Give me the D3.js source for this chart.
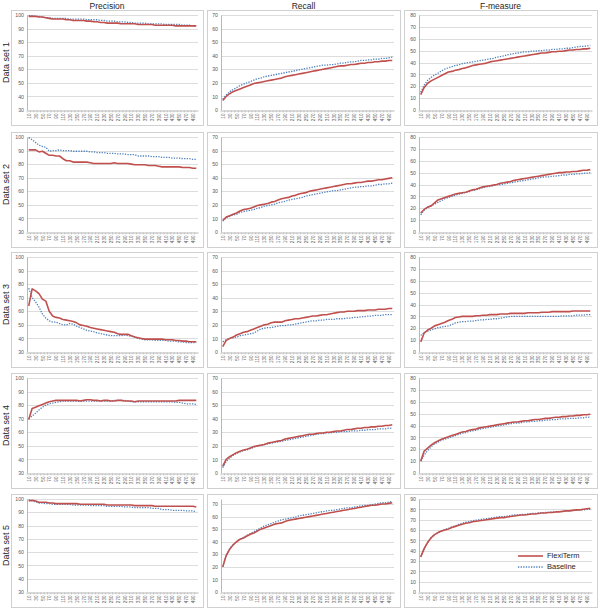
<!DOCTYPE html>
<html><head><meta charset="utf-8">
<script src="https://cdn.jsdelivr.net/npm/d3@7"></script>
<style>html,body{margin:0;padding:0;background:#fff;}svg{display:block;}</style>
</head><body>
<svg id="chart" width="600" height="609"></svg>
<script>
// ---------------- DATA ----------------
const categories = [10,20,30,40,50,60,70,80,90,100,110,120,130,140,150,160,170,180,190,200,210,220,230,240,250,260,270,280,290,300,310,320,330,340,350,360,370,380,390,400,410,420,430,440,450,460,470,480,490,500];
const xTickLabels = [10,30,50,70,90,110,130,150,170,190,210,230,250,270,290,310,330,350,370,390,410,430,450,470,490];
const columnTitles = ["Precision","Recall","F-measure"];
const rowTitles = ["Data set 1","Data set 2","Data set 3","Data set 4","Data set 5"];
const seriesNames = ["FlexiTerm","Baseline"];
const precisionTicks = [30,40,50,60,70,80,90,100];
const recallTicks = [0,10,20,30,40,50,60,70];
const fTicks = [0,10,20,30,40,50,60,70,80];
const fTicksWide = [0,10,20,30,40,50,60,70,80,90];

// Data set 1
const ds1PrecFlexi = [99,99,99,98.5,98.5,98,97.5,97,97,97, 97,96.5,96.5,96,96,96,96,95.5,95.5,95, 95,94.5,94.5,94,94,94,94,93.5,93.5,93.5, 93.5,93.5,93,93,93,93,93,92.5,92.5,92.5, 92.5,92.5,92.5,92,92,92,92,92,92,92];
const ds1PrecBase = [99.5,99.5,99,99,98.5,98,98,97.5,97.5,97.5, 97.5,97.5,97,97,97,97,97,96.5,96.5,96.5, 96.5,96,96,95.5,95.5,95.5,95,95,95,94.5, 94.5,94,94,94,94,93.5,93.5,93.5,93.5,93.5, 93,93,93,93,93,92.5,92.5,92.5,92,92];
const ds1RecFlexi = [7,10,12,13.5,14.5,15.5,16.5,17.5,18.5,19.5, 20,20.5,21,21.5,22,22.5,23,23.5,24.5,25, 25.5,26,26.5,27,27.5,28,28.5,29,29.5,30, 30.5,31,31.5,32,32.5,32.5,33,33.5,33.5,34, 34.5,34.5,35,35,35.5,35.5,36,36,36.5,36.5];
const ds1RecBase = [8,11,13.5,15,16.5,18,19,20,21,22, 23,23.5,24.5,25,25.5,26,26.5,27,27.5,28, 28.5,29,29.5,30,30.5,31,31.5,32,32.5,33, 33,33.5,33.5,34,34.5,34.5,35,35.5,35.5,36, 36.5,36.5,37,37,37.5,37.5,38,38,38.5,39];
const ds1FFlexi = [13,19,22.5,24.5,26,27.5,29,30.5,32,32.5, 33.5,34,35,35.5,36.5,37.5,38,38.5,39,39.5, 40.5,41,41.5,42,42.5,43,43.5,44,44.5,45, 45.5,46,46.5,47,47.5,48,48,48.5,49,49, 49.5,49.5,50,50.5,50.5,51,51,51.5,51.5,52];
const ds1FBase = [15,21,25,27.5,29.5,31,33,34.5,35.5,36.5, 37.5,38,39,39.5,40,40.5,41,41.5,42,42.5, 43,43.5,44.5,45,45.5,46.5,47,47.5,48,48.5, 49,49,49.5,49.5,50,50,50.5,50.5,51,51, 51.5,51.5,52,52,52.5,53,53.5,53.5,54,54.5];

// Data set 2
const ds2PrecFlexi = [90.5,90.5,90.5,89,89.5,88,86.5,86.5,86,86, 84,82.5,82.5,81.5,81.5,81.5,81.5,81.5,81,80.5, 80.5,80.5,80.5,80.5,80.5,81,80.5,80.5,80.5,80.5, 80,79.5,79.5,79.5,79.5,79,79,79,78.5,78, 78,78,78,78,78,77.5,77.5,77.5,77,77];
const ds2PrecBase = [99.5,98,96,94,93,92.5,89.5,90,90,90.5, 90,90,90,89.5,89.5,89.5,89.5,89.5,89,89, 88.5,88.5,88.5,88,88,88,87.5,87.5,87.5,87, 87,87,86,86,86,86,85.5,85.5,85.5,85, 85,85,84.5,84.5,84.5,84,84,84,83.5,83.5];
const ds2RecFlexi = [8.5,11,12,13,14,15.5,16.5,17,17.5,18.5, 19.5,20,20.5,21,22,22.5,23.5,24.5,25,25.5, 26.5,27,28,28.5,29,30,30.5,31,31.5,32, 32.5,33,33.5,34,34.5,35,35.5,35.5,36,36.5, 36.5,37,37.5,37.5,38,38.5,38.5,39,39.5,40];
const ds2RecBase = [8,10.5,11.5,12.5,13,14.5,15,15.5,16,16.5, 17.5,18,19,19.5,20,20.5,21.5,22,22.5,23.5, 24,24.5,25,25.5,26.5,27,27.5,28,28.5,29, 29.5,30,30.5,30.5,31,31.5,32,32.5,33,33, 33.5,33.5,34,34,34.5,35,35,35.5,35.5,36];
const ds2FFlexi = [16,19,21,22,24.5,27,28,29,30,31, 32,32.5,33,33.5,34.5,35.5,36,37,38,38.5, 39,39.5,40,41,41.5,42,42.5,43.5,44,44.5, 45,45.5,46,46.5,47,47.5,48,48.5,49,49.5, 50,50,50.5,50.5,51,51,51.5,52,52,52.5];
const ds2FBase = [14.5,18.5,20.5,22,23.5,25,26.5,28,29,30, 31,32,32.5,33.5,34,35,35.5,36.5,37.5,38, 38.5,39,40,40,40.5,41,41.5,42,42.5,43, 43.5,44,44.5,45,45.5,46,46.5,46.5,47,47, 47.5,48,48,48.5,48.5,49,49,49.5,49.5,50];

// Data set 3
const ds3PrecFlexi = [64,76.5,75,73,69,67.5,60,56.5,55.5,55, 54,53.5,53,52.5,51.5,50,49.5,49,48,47.5, 47,46.5,46,45.5,45,44.5,43.5,43,43,43, 42,41,40.5,40,39.5,39.5,39.5,39.5,39.5,39.5, 39,39,39,38.5,38.5,38,38,37.5,37.5,37.5];
const ds3PrecBase = [77,70,67,63,58,55,53,52,52,51, 50,50,51,50.5,49,48,47,46,45.5,45, 44,43.5,43,42.5,42,42,42,42,42.5,42, 41.5,41,40,39.5,39,39,39,38.5,38.5,38.5, 38.5,38,38,38,37.5,37.5,37,37,37,37];
const ds3RecFlexi = [4,8.5,10,11,12.5,13.5,14.5,15,16,17, 18,19,20,20.5,21.5,22,22,22,23,23.5, 24,24.5,24.5,25,25.5,26,26.5,26.5,27,27.5, 27.5,28,28.5,29,29.5,29.5,30,30,30,30.5, 30.5,30.5,31,31,31,31.5,31.5,31.5,32,32];
const ds3RecBase = [7.5,9,10,10.5,11,12,12.5,13,13.5,14, 15.5,17,17.5,18,18,18.5,19,19.5,19.5,20, 20,20.5,21,21.5,22,22.5,23,23,23.5,23.5, 24,24,24,24.5,24.5,24.5,25,25,25.5,25.5, 26,26,26.5,26.5,27,27,27,27.5,27.5,27.5];
const ds3FFlexi = [8.5,16,18.5,20,22,23,24,25,26.5,27.5, 29,29.5,30,30,30,30,30.5,30.5,31,31, 31.5,31.5,31.5,32,32,32,32.5,32.5,32.5,32.5, 32.5,33,33,33,33,33.5,33.5,33.5,34,34, 34,34,34,34,34.5,34.5,34.5,34.5,34.5,34.5];
const ds3FBase = [14,16.5,17.5,18.5,19.5,20.5,21,21.5,22,23, 24.5,25,25.5,25.5,26,26,26.5,27,27,27.5, 27.5,28,28,28.5,29,29.5,30,30,30,30, 30,30,30,30,30,30,30,30,30,30, 30,30.5,30.5,30.5,30.5,31,31,31,31.5,31.5];

// Data set 4
const ds4PrecFlexi = [69.5,77.5,78.5,79.5,80.5,81.5,82.5,83,83.5,83.5, 83.5,83.5,83.5,83.5,83.5,83,83.5,84,84,83.5, 83.5,83,83.5,83.5,83,83,83.5,83.5,83,83, 83,82.5,83,83,83,83,83,83,83,83, 83,83,83,83,83.5,83.5,83.5,83.5,83.5,83.5];
const ds4PrecBase = [70,72,74,76.5,78.5,80,81,81.5,82,82.5, 83,83,83,83,83,83,83,83,83,83, 83,83,83,83,83,83.5,83.5,83.5,83.5,83, 82.5,82.5,82.5,82.5,82.5,82.5,82.5,82.5,82.5,82.5, 82.5,82.5,82.5,82,82,81.5,81,81,81,80.5];
const ds4RecFlexi = [5,10,12,13.5,15,16,17,17.5,18.5,19.5, 20,20.5,21,22,22.5,23,23.5,24,25,25.5, 26,26.5,27,27.5,28,28.5,28.5,29,29.5,29.5, 30,30,30.5,31,31,31.5,32,32,32.5,33, 33,33.5,33.5,34,34,34.5,34.5,35,35,35.5];
const ds4RecBase = [4,8.5,11,13,14.5,15.5,16.5,17,18,19, 20,20.5,21,21.5,22,22.5,23,23.5,24,24.5, 25,25.5,26,26.5,27,27.5,28,28.5,29,29, 29.5,29.5,30,30,30.5,30.5,30.5,31,31,31, 31.5,31.5,32,32,32,32.5,32.5,32.5,33,33];
const ds4FFlexi = [10,18.5,21,23.5,25.5,27,28.5,29.5,30.5,31.5, 32.5,33.5,34.5,35,36,36.5,37,38,38.5,39, 39.5,40,40.5,41,41.5,42,42.5,43,43,43.5, 44,44,44.5,45,45,45.5,46,46,46.5,47, 47,47.5,47.5,48,48,48.5,48.5,49,49,49.5];
const ds4FBase = [10,15,19,22,24.5,26,27.5,28.5,29.5,30.5, 31.5,32.5,33.5,34,35,35.5,36,37,37.5,38, 38.5,39,39.5,40,40.5,41,41.5,42,42,42.5, 43,43,43.5,43.5,44,44,44.5,44.5,45,45, 45.5,45.5,45.5,46,46,46,46.5,46.5,47,47];

// Data set 5
const ds5PrecFlexi = [98.5,99,98.5,97.5,97.5,97.5,97,97,96.5,96.5, 96.5,96.5,96.5,96.5,96.5,96,96,96,96,96, 96,96,96,95.5,95.5,95.5,95.5,95.5,95.5,95.5, 95.5,95,95,95,95,95,95,94.5,94.5,94.5, 94.5,94.5,94.5,94.5,94.5,94.5,94.5,94.5,94.5,94];
const ds5PrecBase = [99.5,98.5,98,97,97,96.5,96.5,96,96,96, 96,96,96,95.5,95.5,95.5,95.5,95.5,95,95, 95,95,95,94.5,94.5,94.5,94.5,94.5,94,94, 94,93.5,93.5,93.5,93.5,93.5,93,93,93,92, 92,92,91.5,91.5,91.5,91.5,91,91,91,90.5];
const ds5RecFlexi = [20,29,34,37.5,40,42,43,44.5,46,47, 48.5,50,51,52,53,54,54.5,55,56,57, 57.5,58,58.5,59,59.5,60,60.5,61,61.5,62, 62.5,63,63.5,64,64.5,65,65.5,66,66.5,67, 67.5,68,68.5,69,69,69.5,70,70,70.5,71];
const ds5RecBase = [20,29,34.5,37.5,40,42,43.5,45,46.5,48, 49.5,51,52.5,53.5,54.5,55.5,56.5,57.5,58,58.5, 59,59.5,60.5,61,61.5,62,62.5,63,63.5,64, 64.5,65,65,65.5,66,66.5,67,67,67.5,68, 68.5,69,69,69.5,70,70.5,71,71,71.5,72];
const ds5FFlexi = [34,42,48,52.5,55.5,57.5,59,60,61,62.5, 63.5,64.5,65.5,66.5,67,68,68.5,69,69.5,70, 70.5,71,71.5,72,72,72.5,73,73.5,74,74.5, 74.5,75,75.5,75.5,76,76.5,76.5,77,77,77.5, 77.5,78,78.5,78.5,79,79.5,79.5,80,80.5,81];
const ds5FBase = [34,42,48,52.5,55.5,57.5,59,60.5,61.5,63, 64,65.5,66.5,67.5,68,69,69.5,70,70.5,71, 71.5,72,72.5,73,73,73.5,74,74.5,74.5,75, 75,75.5,76,76,76.5,76.5,77,77,77.5,77.5, 78,78,78.5,78.5,79,79,79.5,79.5,80,80];

// ------------- PANEL TABLE (built from the arrays) -------------
const panels = [
  [ {ticks:precisionTicks, max:100, s:[ds1PrecFlexi, ds1PrecBase]}, {ticks:recallTicks, max:70, s:[ds1RecFlexi, ds1RecBase]}, {ticks:fTicks, max:80, s:[ds1FFlexi, ds1FBase]} ],
  [ {ticks:precisionTicks, max:100, s:[ds2PrecFlexi, ds2PrecBase]}, {ticks:recallTicks, max:70, s:[ds2RecFlexi, ds2RecBase]}, {ticks:fTicks, max:80, s:[ds2FFlexi, ds2FBase]} ],
  [ {ticks:precisionTicks, max:100, s:[ds3PrecFlexi, ds3PrecBase]}, {ticks:recallTicks, max:70, s:[ds3RecFlexi, ds3RecBase]}, {ticks:fTicks, max:80, s:[ds3FFlexi, ds3FBase]} ],
  [ {ticks:precisionTicks, max:100, s:[ds4PrecFlexi, ds4PrecBase]}, {ticks:recallTicks, max:70, s:[ds4RecFlexi, ds4RecBase]}, {ticks:fTicks, max:80, s:[ds4FFlexi, ds4FBase]} ],
  [ {ticks:precisionTicks, max:100, s:[ds5PrecFlexi, ds5PrecBase]}, {ticks:recallTicks, max:74, s:[ds5RecFlexi, ds5RecBase]}, {ticks:fTicksWide, max:90, s:[ds5FFlexi, ds5FBase]} ]
];

// ------------- LAYOUT -------------
const rowTops = [15, 137, 257, 378, 499];
const rowHeights = [95, 95, 95, 95, 93];
const colRanges = [[27,198],[221,394],[419,592]];
const boxX = [[11,203],[207,400],[404,597]];
const colors = ["#C0504D", "#4F81BD"];
const fontFam = "'Liberation Sans', Arial, sans-serif";

const svg = d3.select("#chart");

panels.forEach((row, r) => {
  const top = rowTops[r], h = rowHeights[r], bottom = top + h;
  // row title
  svg.append("text").attr("transform", `translate(7,${top + h/2}) rotate(-90)`)
    .attr("text-anchor","middle").attr("dominant-baseline","middle")
    .attr("font-family",fontFam).attr("font-size",9).attr("fill","#262626").text(rowTitles[r]);

  row.forEach((p, c) => {
    const [x0, x1] = colRanges[c];
    // panel box
    svg.append("rect").attr("x", boxX[c][0]+0.5).attr("y", top-4.5)
      .attr("width", boxX[c][1]-boxX[c][0]).attr("height", h + 20)
      .attr("fill","#fff").attr("stroke","#d0d0d0").attr("stroke-width",1);

    const x = d3.scalePoint().domain(categories).range([x0, x1]).padding(0.5);
    const yScale = d3.scaleLinear().domain([p.ticks[0], p.max]).range([bottom, top]);

    const g = svg.append("g");
    // gridlines
    g.selectAll("line.grid").data(p.ticks.slice(1)).join("line")
      .attr("x1", x0).attr("x2", x1)
      .attr("y1", d => Math.round(yScale(d))+0.5).attr("y2", d => Math.round(yScale(d))+0.5)
      .attr("stroke","#d9d9d9").attr("stroke-width",0.9);

    // y axis
    const yAxis = d3.axisLeft(yScale).tickValues(p.ticks).tickSize(0).tickPadding(3);
    const ya = g.append("g").attr("transform",`translate(${x0},0)`).call(yAxis);
    ya.select(".domain").attr("stroke","#a6a6a6").attr("stroke-width",0.8);
    ya.selectAll("text").attr("font-family",fontFam).attr("font-size",5.2).attr("fill","#595959");

    // x axis
    const step = x.step();
    const xAxis = d3.axisBottom(x).tickValues(xTickLabels).tickSize(0).tickPadding(0);
    const xa = g.append("g").attr("transform",`translate(0,${Math.round(bottom)+0.5})`).call(xAxis);
    xa.select(".domain").attr("stroke","#a6a6a6").attr("stroke-width",0.8);
    xa.selectAll("text").attr("font-family",fontFam).attr("font-size",4.6).attr("fill","#595959")
      .attr("transform","rotate(-90)").attr("text-anchor","end").attr("dy","0.35em").attr("x",-3).attr("y",0);
    // category tick marks
    g.selectAll("line.tk").data(categories).join("line")
      .attr("x1", d => x(d) - step/2).attr("x2", d => x(d) - step/2)
      .attr("y1", Math.round(bottom)+0.5).attr("y2", Math.round(bottom)+2.5)
      .attr("stroke","#a6a6a6").attr("stroke-width",0.5);

    // lines (baseline first then flexi on top)
    [1,0].forEach(si => {
      const line = d3.line().x((d,i) => x(categories[i])).y(d => yScale(d));
      g.append("path").datum(p.s[si]).attr("d", line).attr("fill","none")
        .attr("stroke", colors[si])
        .attr("stroke-width", si === 0 ? 1.6 : 1.3)
        .attr("stroke-dasharray", si === 0 ? null : "1.3,1.3")
        .attr("stroke-linejoin","round");
    });
  });
});

// column titles (drawn after boxes)
columnTitles.forEach((t, c) => {
  svg.append("text").attr("x", (boxX[c][0]+boxX[c][1])/2).attr("y", 8.5)
    .attr("text-anchor","middle").attr("font-family",fontFam).attr("font-size",8.5)
    .attr("fill","#262626").text(t);
});

// legend in last panel
const lg = svg.append("g");
seriesNames.forEach((n, i) => {
  const ly = 556 + i * 11;
  lg.append("line").attr("x1",518).attr("x2",543).attr("y1",ly).attr("y2",ly)
    .attr("stroke",colors[i]).attr("stroke-width", i===0?1.6:1.3)
    .attr("stroke-dasharray", i===0?null:"1.3,1.3");
  lg.append("text").attr("x",547).attr("y",ly).attr("dominant-baseline","middle")
    .attr("font-family",fontFam).attr("font-size",7.5).attr("fill","#262626").text(n);
});
</script>
</body></html>
